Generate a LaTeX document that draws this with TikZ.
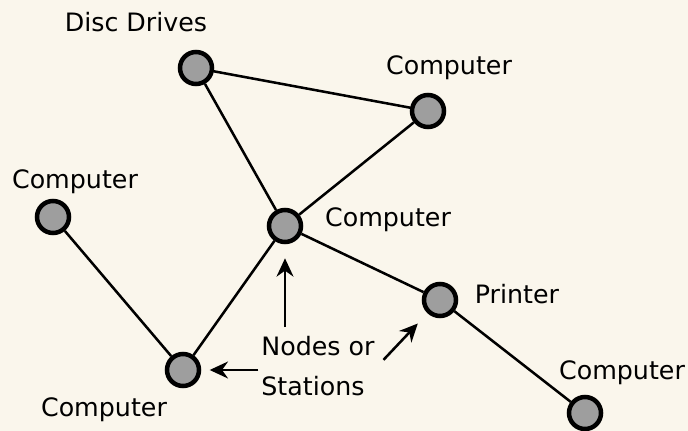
\documentclass[tikz,border=0pt]{standalone}
\usepackage{fontspec}
\setmainfont{DejaVu Sans}
\usetikzlibrary{arrows.meta,positioning}

\definecolor{paper}{RGB}{250,246,236}

\begin{document}
\begin{tikzpicture}[x=0.025cm, y=-0.025cm, font=\fontsize{18}{29}\selectfont,
                station/.style={circle, draw, line width=3.2pt, fill=black!38, minimum size=0.8cm, inner sep=0pt},
                link/.style={line width=1.8pt},
                pointer/.style={line width=1.8pt, shorten >=10pt, arrows={-Stealth[length=13pt, width=12pt]}}]
                \fill[paper] (0,0) rectangle (688,431);
                \useasboundingbox (0,0) rectangle (688,431);

                % the stations
                \node[station] (disc) at (196,68) {};
                \node[station] (tr) at (428,111) {};
                \node[station] (lt) at (53,217) {};
                \node[station] (ctr) at (285,226) {};
                \node[station] (prn) at (440,300) {};
                \node[station] (bl) at (183,370) {};
                \node[station] (br) at (585,413) {};

                % their names
                \node (discl) at (136,22) {Disc Drives};
                \node (trl) at (449,68) {Computer};
                \node (ltl) at (75,182) {Computer};
                \node (ctrl) at (388,220) {Computer};
                \node (prnl) at (517,294) {Printer};
                \node (bll) at (104,410) {Computer};
                \node (brl) at (622,373) {Computer};

                \path[link]
                          (disc) edge (tr)
                          (disc) edge (ctr)
                          (tr) edge (ctr)
                          (lt) edge (bl)
                          (bl) edge (ctr)
                          (ctr) edge (prn)
                          (prn) edge (br);

                \node[align=left, inner sep=2pt] (note) at (318,366) {Nodes or\\Stations};
                \draw[pointer, shorten <=4pt] (note.north -| ctr) -- (ctr);
                \draw[pointer, shorten >=6pt] (note.west |- bl) -- (bl);
                \draw[pointer, shorten <=6pt] (note.east) -- (prn);
\end{tikzpicture}
\end{document}
